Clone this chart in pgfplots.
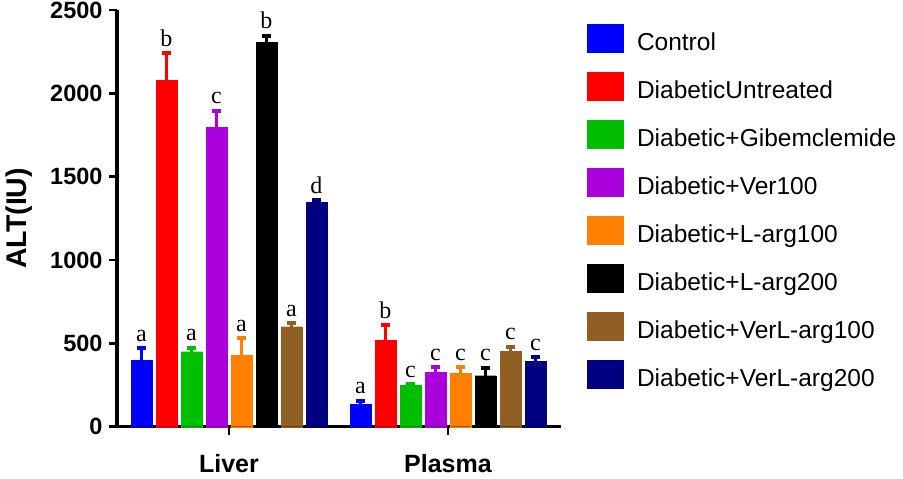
\documentclass[border=0pt]{standalone}
\usepackage{pgfplots}
\pgfplotsset{compat=1.18}
\usepackage{fontspec}
\setmainfont{Liberation Sans}
\newfontfamily\seriffont{Liberation Serif}
\definecolor{cBlue}{RGB}{0,0,255}
\definecolor{cRed}{RGB}{255,0,0}
\definecolor{cGreen}{RGB}{0,190,0}
\definecolor{cPurple}{RGB}{170,0,220}
\definecolor{cOrange}{RGB}{255,128,0}
\definecolor{cBlack}{RGB}{0,0,0}
\definecolor{cBrown}{RGB}{145,95,35}
\definecolor{cNavy}{RGB}{0,0,128}
\pgfplotsset{
  bstyle/.style={fill=#1, draw=#1, line width=0.3bp,
    legend image code/.code={\fill[#1] (0bp,-8.5bp) rectangle (36bp,19.5bp);},
    error bars/.cd, y dir=plus, y explicit,
    error bar style={line width=3bp, color=#1},
    error mark options={line width=4bp, mark size=4.5bp, rotate=90, color=#1}}
}
\begin{document}
\begin{tikzpicture}
\begin{axis}[
  name=ax,
  scale only axis, width=444bp, height=416.7bp,
  xmin=-0.5114, xmax=1.516, ymin=0, ymax=2500,
  ybar=4.4bp, bar width=20.6bp,
  clip=false,
  axis x line*=bottom, axis y line*=left,
  axis line style={-, line width=3.5bp},
  xtick={0,1}, xticklabels={Liver,Plasma},
  ytick={0,500,1000,1500,2000,2500},
  yticklabels={0,500,1000,1500,2000,2500},
  xtick pos=bottom, ytick pos=left,
  tick align=outside, major tick length=8bp,
  xtick style={draw=black, line width=2.5bp},
  ytick style={draw=black, line width=2.5bp},
  yticklabel style={font=\bfseries\fontsize{23.5bp}{23.5bp}\selectfont, xshift=-3bp},
  xticklabel style={font=\bfseries\fontsize{25bp}{25bp}\selectfont, yshift=-16bp},
  ylabel={ALT(IU)},
  every axis y label/.style={at={(axis description cs:-0.189,0.5)}, rotate=90, anchor=south, inner sep=0pt, font=\bfseries\fontsize{28.5bp}{28.5bp}\selectfont},
  point meta=explicit symbolic,
  nodes near coords,
  visualization depends on={\thisrow{e}\as\err},
  nodes near coords style={font=\seriffont\fontsize{24bp}{24bp}\selectfont, text=black, anchor=base, inner sep=0pt, yshift=7bp+\err*0.16668bp},
  legend style={at={(1,1)}, anchor=north west, xshift=26bp, yshift=-14bp, draw=none, fill=none, inner sep=0pt, outer sep=0pt, row sep=16.9bp, column sep=13.7bp, font=\fontsize{24.5bp}{24.5bp}\selectfont, nodes={inner sep=0pt, text height=18bp, text depth=5bp}},
  legend cell align=left,
]
\addplot[bstyle=cBlue] table[x=x, y=y, y error=e, meta=l] {
x y e l
0 400 72 a
1 134 22 a
};
\addplot[bstyle=cRed] table[x=x, y=y, y error=e, meta=l] {
x y e l
0 2080 160 b
1 520 90 b
};
\addplot[bstyle=cGreen] table[x=x, y=y, y error=e, meta=l] {
x y e l
0 450 24 a
1 250 6 c
};
\addplot[bstyle=cPurple] table[x=x, y=y, y error=e, meta=l] {
x y e l
0 1796 100 c
1 326 30 c
};
\addplot[bstyle=cOrange] table[x=x, y=y, y error=e, meta=l] {
x y e l
0 430 100 a
1 320 36 c
};
\addplot[bstyle=cBlack] table[x=x, y=y, y error=e, meta=l] {
x y e l
0 2306 40 b
1 306 48 c
};
\addplot[bstyle=cBrown] table[x=x, y=y, y error=e, meta=l] {
x y e l
0 600 20 a
1 452 28 c
};
\addplot[bstyle=cNavy] table[x=x, y=y, y error=e, meta=l] {
x y e l
0 1346 14 d
1 394 22 c
};
\legend{Control,DiabeticUntreated,Diabetic+Gibemclemide,Diabetic+Ver100,Diabetic+L-arg100,Diabetic+L-arg200,Diabetic+VerL-arg100,Diabetic+VerL-arg200}
\end{axis}
\pgfresetboundingbox
\path ([shift={(-117bp,-52.3bp)}]ax.south west) rectangle ++(903bp,479bp);
\end{tikzpicture}
\end{document}
